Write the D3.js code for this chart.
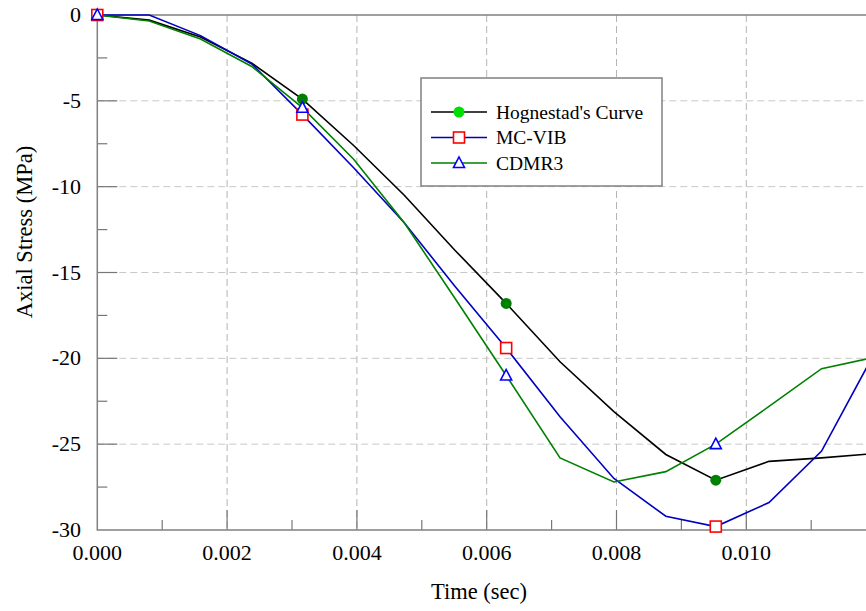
<!DOCTYPE html>
<html>
<head>
<meta charset="utf-8">
<script src="https://cdn.jsdelivr.net/npm/d3@7"></script>
<style>
  body { margin: 0; background: #fff; }
  svg { display: block; font-family: "Liberation Serif", "Times New Roman", serif; }
</style>
</head>
<body>
<svg id="chart" width="866" height="611"></svg>
<script>
// time steps (sec)
const timeSec = [0, 0.0008, 0.00159, 0.00238, 0.00316, 0.00395, 0.00473, 0.00551,
    0.0063, 0.00713, 0.00796, 0.00876, 0.00953, 0.01035, 0.01116, 0.01196];

const hognestad = [0, -0.3, -1.28, -2.8, -4.9, -7.6, -10.5, -13.7,
    -16.8, -20.2, -23.1, -25.6, -27.1, -26.0, -25.8, -25.55];
const mcVIB = [0, 0, -1.2, -2.85, -5.8, -8.9, -12.1, -15.8,
    -19.4, -23.4, -27.0, -29.2, -29.8, -28.4, -25.4, -19.8];
const cdmr3 = [0, -0.35, -1.4, -3.0, -5.4, -8.4, -12.1, -16.5,
    -21.0, -25.8, -27.2, -26.6, -25.0, -22.8, -20.6, -19.95];

const markerIdx = [0, 4, 8, 12];

const xTicks = [0, 0.002, 0.004, 0.006, 0.008, 0.010, 0.012];
const yTicks = [0, -5, -10, -15, -20, -25, -30];

const series = [
    { name: "Hognestad's Curve", values: hognestad, line: "#000000", marker: "circle" },
    { name: "MC-VIB", values: mcVIB, line: "#0000c0", marker: "square" },
    { name: "CDMR3", values: cdmr3, line: "#008000", marker: "triangle" }
];

const svg = d3.select("#chart");
const plotLeft = 97.3, plotTop = 15, plotBottom = 530;

const x = d3.scaleLinear().domain([0, 0.012]).range([plotLeft, plotLeft + 778.8]);
const y = d3.scaleLinear().domain([-30, 0]).range([plotBottom, plotTop]);
const plotRight = x(0.012);

// grid
const grid = svg.append("g");
grid.selectAll(".vg")
    .data(xTicks.filter(d => d > 0))
    .enter().append("line")
    .attr("x1", d => x(d)).attr("x2", d => x(d))
    .attr("y1", plotTop).attr("y2", plotBottom)
    .attr("stroke", "#b4b4b4").attr("stroke-width", 1)
    .attr("stroke-dasharray", "7,4");
grid.selectAll(".hg")
    .data(yTicks.filter(d => d > -30 && d < 0))
    .enter().append("line")
    .attr("x1", plotLeft).attr("x2", plotRight)
    .attr("y1", d => y(d)).attr("y2", d => y(d))
    .attr("stroke", "#c8c8c8").attr("stroke-width", 1)
    .attr("stroke-dasharray", "7,4");

// inside ticks
const xMinor = d3.range(0.001, 0.012, 0.002);
const yMinor = d3.range(-2.5, -30, -5);
const ticks = svg.append("g").attr("stroke", "#777").attr("stroke-width", 1.2);
ticks.selectAll(".xt").data(xTicks.filter(d => d > 0)).enter().append("line")
    .attr("x1", d => x(d)).attr("x2", d => x(d))
    .attr("y1", plotBottom).attr("y2", plotBottom - 20);
ticks.selectAll(".xm").data(xMinor).enter().append("line")
    .attr("x1", d => x(d)).attr("x2", d => x(d))
    .attr("y1", plotBottom).attr("y2", plotBottom - 10);
ticks.selectAll(".yt").data(yTicks.filter(d => d > -30 && d < 0)).enter().append("line")
    .attr("x1", plotLeft).attr("x2", plotLeft + 20)
    .attr("y1", d => y(d)).attr("y2", d => y(d));
ticks.selectAll(".ym").data(yMinor).enter().append("line")
    .attr("x1", plotLeft).attr("x2", plotLeft + 10)
    .attr("y1", d => y(d)).attr("y2", d => y(d));

// frame
svg.append("rect")
    .attr("x", plotLeft).attr("y", plotTop)
    .attr("width", plotRight - plotLeft).attr("height", plotBottom - plotTop)
    .attr("fill", "none").attr("stroke", "#808080").attr("stroke-width", 1.5);

// tick labels
svg.append("g").selectAll("text")
    .data(xTicks.slice(0, 6)).enter().append("text")
    .attr("x", d => x(d)).attr("y", 560)
    .attr("text-anchor", "middle")
    .attr("font-size", 22)
    .text(d => d3.format(".3f")(d));
svg.append("g").selectAll("text")
    .data(yTicks).enter().append("text")
    .attr("x", 81).attr("y", d => y(d) + 7)
    .attr("text-anchor", "end")
    .attr("font-size", 22)
    .text(d => d);

// axis titles
svg.append("text")
    .attr("x", 479).attr("y", 599)
    .attr("text-anchor", "middle").attr("font-size", 22.5)
    .text("Time (sec)");
svg.append("text")
    .attr("transform", "translate(32,232) rotate(-90)")
    .attr("text-anchor", "middle").attr("font-size", 22.5)
    .text("Axial Stress (MPa)");

// lines
const line = d3.line()
    .x((d, i) => x(timeSec[i]))
    .y(d => y(d));

const plot = svg.append("g");
series.forEach(s => {
    plot.append("path")
        .datum(s.values)
        .attr("fill", "none")
        .attr("stroke", s.line)
        .attr("stroke-width", 1.6)
        .attr("d", line);
});

function drawMarker(g, type, cx, cy, legend) {
    if (type === "circle") {
        g.append("circle").attr("cx", cx).attr("cy", cy).attr("r", 5.5)
            .attr("fill", legend ? "#00e000" : "#008000");
    } else if (type === "square") {
        g.append("rect").attr("x", cx - 5.5).attr("y", cy - 5.5)
            .attr("width", 11).attr("height", 11)
            .attr("fill", "#fff").attr("stroke", "#ff0000").attr("stroke-width", 1.6);
    } else {
        g.append("path")
            .attr("d", `M${cx},${cy - 6}L${cx + 5.5},${cy + 4.5}L${cx - 5.5},${cy + 4.5}Z`)
            .attr("fill", "#fff").attr("stroke", "#0000ff").attr("stroke-width", 1.6);
    }
}

series.forEach(s => {
    markerIdx.forEach(i => drawMarker(plot, s.marker, x(timeSec[i]), y(s.values[i]), false));
});

// legend
const lg = svg.append("g");
lg.append("rect")
    .attr("x", 421).attr("y", 78).attr("width", 241).attr("height", 108)
    .attr("fill", "#fff").attr("stroke", "#808080").attr("stroke-width", 1.5);
series.forEach((s, i) => {
    const ly = 112 + i * 25.5;
    lg.append("line").attr("x1", 431).attr("x2", 487)
        .attr("y1", ly).attr("y2", ly)
        .attr("stroke", s.line).attr("stroke-width", 1.6);
    drawMarker(lg, s.marker, 459, ly, true);
    lg.append("text").attr("x", 496).attr("y", ly + 6.5)
        .attr("font-size", 19.5)
        .text(s.name);
});
</script>
</body>
</html>
